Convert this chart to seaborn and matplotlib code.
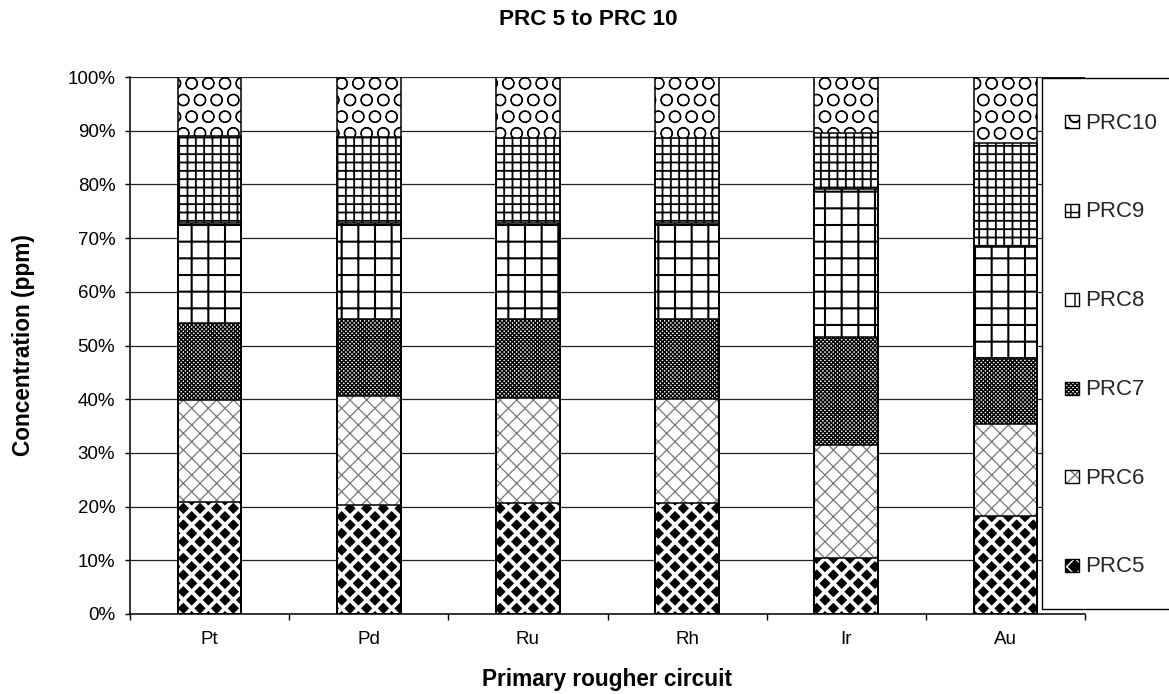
import numpy as np
import pandas as pd
import matplotlib
matplotlib.use("Agg")
import matplotlib.pyplot as plt
import seaborn as sns
from matplotlib.patches import Patch, Rectangle
from matplotlib.legend_handler import HandlerPatch
from matplotlib.ticker import PercentFormatter

# ---------------- data ----------------
categories = ["Pt", "Pd", "Ru", "Rh", "Ir", "Au"]
series_names = ["PRC5", "PRC6", "PRC7", "PRC8", "PRC9", "PRC10"]
prc5 = [20.8, 20.3, 20.6, 20.6, 10.5, 18.2]
prc6 = [19.1, 20.3, 19.7, 19.5, 21.0, 17.2]
prc7 = [14.3, 14.4, 14.7, 14.9, 20.1, 12.2]
prc8 = [18.7, 17.9, 17.8, 17.9, 27.5, 20.8]
prc9 = [16.2, 16.0, 15.9, 15.7, 10.4, 19.4]
prc10 = [10.9, 11.1, 11.3, 11.4, 10.5, 12.2]
y_ticks = [0, 10, 20, 30, 40, 50, 60, 70, 80, 90, 100]
title = "PRC 5 to PRC 10"
x_label = "Primary rougher circuit"
y_label = "Concentration (ppm)"

# ---------------- style ----------------
sns.set_theme(style="white")
plt.rcParams["font.family"] = ["Liberation Sans", "DejaVu Sans"]

styles = {
    "PRC5": dict(face="black", hcol="white", hatch="xx", hlw=2.7),
    "PRC6": dict(face="white", hcol="#777777", hatch="xx", hlw=0.9),
    "PRC7": dict(face="white", hcol="black", hatch="xxxxxxxx", hlw=1.0),
    "PRC8": dict(face="white", hcol="black", hatch="+", hlw=1.5),
    "PRC9": dict(face="white", hcol="black", hatch="++", hlw=1.3),
    "PRC10": dict(face="white", hcol="black", hatch="O", hlw=0.8),
}

values = np.array([prc5, prc6, prc7, prc8, prc9, prc10], dtype=float)
pct = values / values.sum(axis=0) * 100.0
cum = np.cumsum(pct, axis=0)

df = pd.DataFrame({"category": categories})
for name, c in zip(series_names, cum):
    df[name] = c

W, H = 1169, 694
fig = plt.figure(figsize=(W / 100, H / 100), dpi=100)
ax = fig.add_axes([130 / W, 1 - 614 / H, 955 / W, 537 / H])

# filled, hatched layers (top-most cumulative first)
for name in reversed(series_names):
    st = styles[name]
    n_before = len(ax.patches)
    with plt.rc_context({"hatch.linewidth": st["hlw"]}):
        sns.barplot(data=df, x="category", y=name, order=categories,
                    color=st["face"], edgecolor=st["hcol"], hatch=st["hatch"],
                    linewidth=0, width=0.4, saturation=1, errorbar=None,
                    ax=ax, zorder=2)
    for p in ax.patches[n_before:]:
        p.set_facecolor(st["face"])
        p.set_edgecolor(st["hcol"])
        p.set_hatch(st["hatch"])
        if hasattr(p, "set_hatch_linewidth"):
            p.set_hatch_linewidth(st["hlw"])

# black outlines of every segment
for name in reversed(series_names):
    n_before = len(ax.patches)
    sns.barplot(data=df, x="category", y=name, order=categories,
                fill=False, color="black", linewidth=1.1, width=0.4,
                errorbar=None, ax=ax, zorder=3)
    for p in ax.patches[n_before:]:
        p.set_facecolor("none")
        p.set_edgecolor("black")
        p.set_linewidth(1.1)

# ---------------- axes ----------------
ax.set_xlim(-0.5, 5.5)
ax.set_ylim(0, 100)
ax.set_yticks(y_ticks)
ax.yaxis.set_major_formatter(PercentFormatter(decimals=0))
ax.yaxis.grid(True, color="#222222", linewidth=0.9)
ax.xaxis.grid(False)
ax.set_axisbelow(True)

ax.set_xticks(range(len(categories)))
ax.set_xticklabels(categories)
ax.set_xticks(np.arange(-0.5, len(categories), 1.0), minor=True)
ax.tick_params(axis="x", which="major", length=0, pad=12, labelsize=13.5,
               labelcolor="black", bottom=True)
ax.tick_params(axis="x", which="minor", length=4.5, width=1, direction="out",
               color="black", bottom=True)
ax.tick_params(axis="y", length=3.6, width=1, direction="out", left=True,
               pad=7, labelsize=13.5, color="black", labelcolor="black")

for s in ["top", "right"]:
    ax.spines[s].set_visible(False)
for s in ["left", "bottom"]:
    ax.spines[s].set_color("black")
    ax.spines[s].set_linewidth(1.1)

ax.set_xlabel(x_label, fontsize=16.3, fontweight="bold", color="black")
ax.xaxis.set_label_coords(0.5, (614 - 668) / 537)
ax.set_ylabel(y_label, fontsize=16.3, fontweight="bold", color="black")
ax.yaxis.set_label_coords((35 - 130) / 955, 0.5)

fig.text(588.5 / W, 1 - 25 / H, title, ha="center", va="baseline",
         fontsize=16.2, fontweight="bold", color="black")


# ---------------- legend ----------------
class SquareHandler(HandlerPatch):
    def create_artists(self, legend, orig_handle, xdescent, ydescent,
                       width, height, fontsize, trans):
        w, h = 10.0, 9.4
        x0 = -xdescent
        y0 = -ydescent + (height - h) / 2.0
        fillp = Rectangle((x0, y0), w, h, facecolor=orig_handle.get_facecolor(),
                          edgecolor=orig_handle.get_edgecolor(),
                          hatch=orig_handle.get_hatch(), linewidth=0,
                          transform=trans)
        border = Rectangle((x0, y0), w, h, facecolor="none", edgecolor="black",
                           linewidth=1.0, transform=trans)
        return [fillp, border]


handles = [Patch(facecolor=styles[n]["face"], edgecolor=styles[n]["hcol"],
                 hatch=styles[n]["hatch"], label=n)
           for n in reversed(series_names)]
leg = fig.legend(handles=handles, handler_map={Patch: SquareHandler()},
                 loc="upper left", bbox_to_anchor=(1042 / W, 1 - 78 / H),
                 bbox_transform=fig.transFigure, frameon=True, fancybox=False,
                 shadow=False, borderpad=1.05, handlelength=0.62,
                 handleheight=2.46, handletextpad=0.28, labelspacing=2.15,
                 fontsize=16, borderaxespad=0)
frame = leg.get_frame()
frame.set_edgecolor("black")
frame.set_linewidth(1.0)
frame.set_facecolor("white")
frame.set_alpha(1)

fig.savefig("out.png", dpi=100)
